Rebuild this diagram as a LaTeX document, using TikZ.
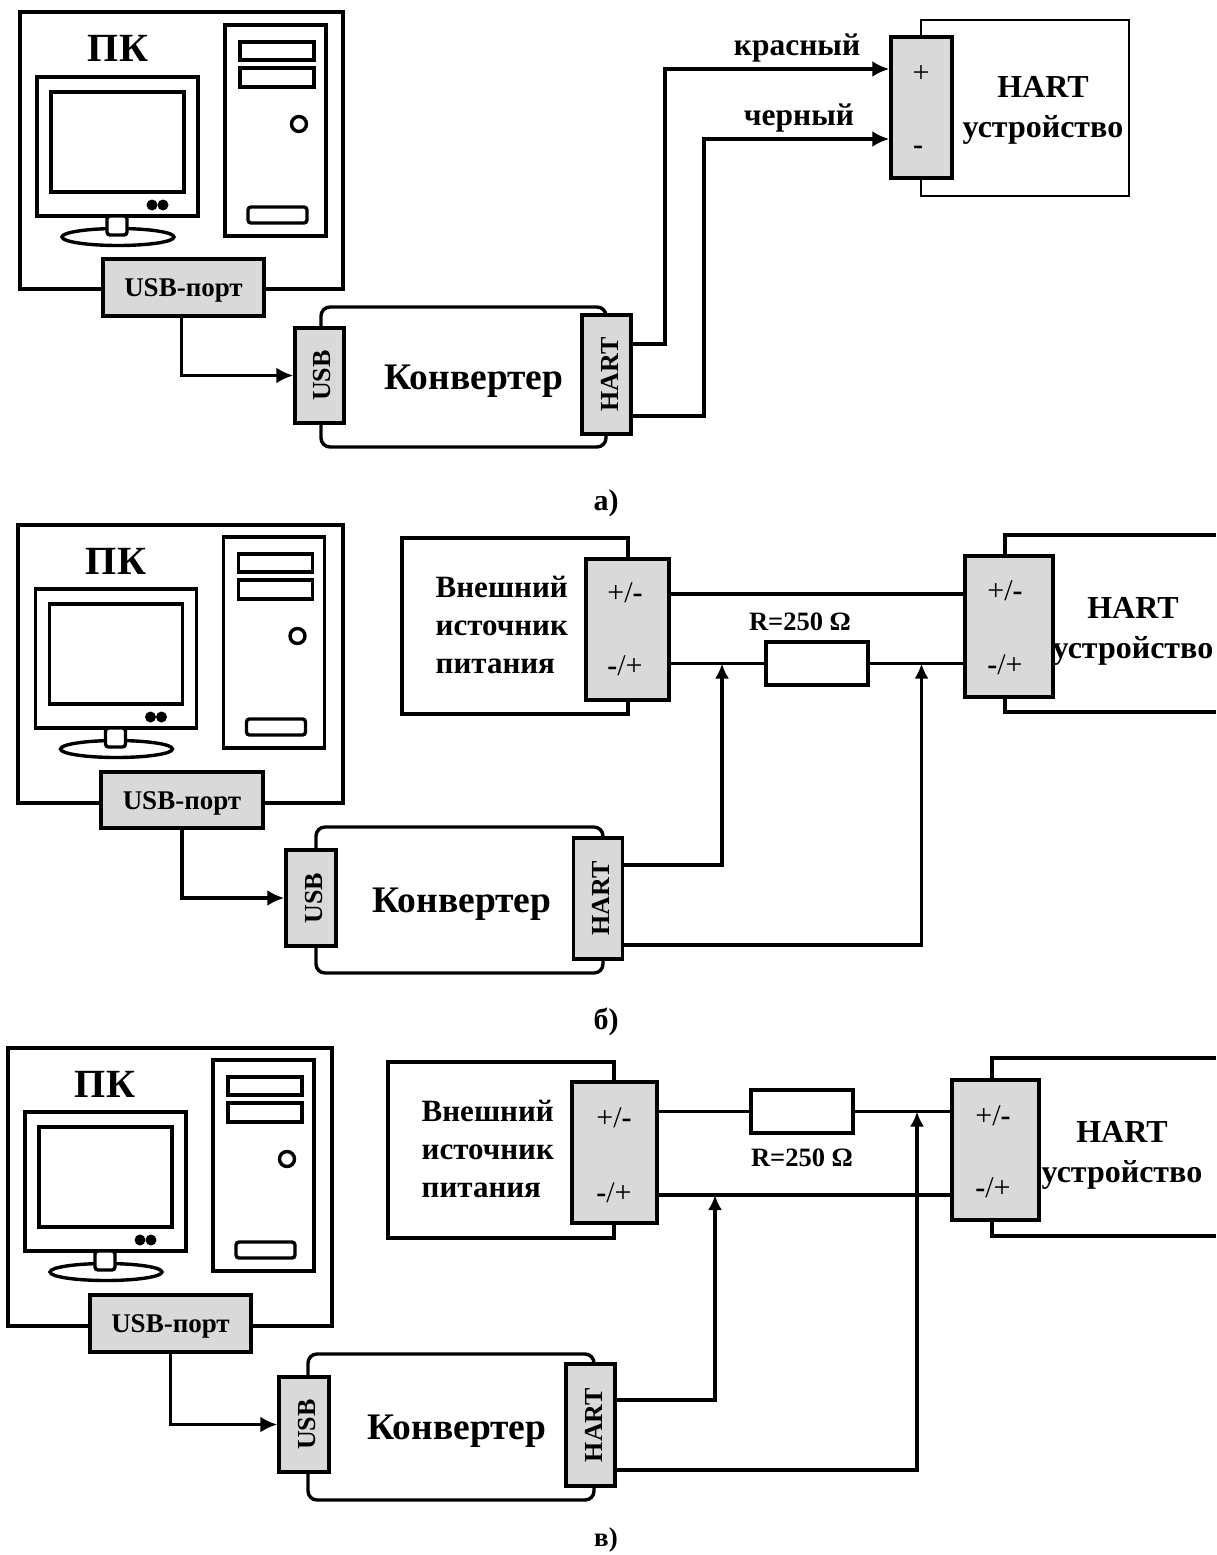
\documentclass[tikz,border=0pt]{standalone}
\usepackage{fontspec}
\setmainfont{Liberation Serif}
\usetikzlibrary{arrows.meta, positioning}
\definecolor{portgray}{HTML}{D9D9D9}
\newcommand{\fsz}[1]{\fontsize{#1}{#1}\selectfont}

\tikzset{
  pics/pcunit/.style={
    code={
      \draw (37,77) rectangle (198,216);
      \draw (51,92) rectangle (184,192);
      \fill (152,205) circle (5.5);
      \fill (163,205) circle (5.5);
      \draw (118,237) ellipse (56 and 8.5);
      \draw[fill=white, rounded corners=3pt] (107,216) rectangle (127,235);
      \draw (225,25) rectangle (326,236);
      \draw (240,42) rectangle (314,60);
      \draw (240,68) rectangle (314,87);
      \draw (299,124) circle (7.5);
      \draw[rounded corners=3pt] (248,207) rectangle (307,223);
    }
  },
}

\begin{document}
\begin{tikzpicture}[
    x = 1pt,
    y = -1pt,
    line width = 3.4pt,
    font = \bfseries,
    sized/.style 2 args={minimum width = #1pt, minimum height = #2pt},
    box/.style={draw, fill = white, inner sep = 0pt},
    port/.style={draw, fill = portgray, inner sep = 0pt},
    conv/.style={box, rounded corners = 9pt},
    wire/.style={line width = 3.6pt},
    feed/.style={wire, -{Latex[length = 17pt, width = 16pt]}},
    tap/.style={wire, -{Latex[length = 15pt, width = 14pt]}},
    title/.style={font = \bfseries\fsz{40}},
    convname/.style={font = \bfseries\fsz{37.5}},
    vertname/.style={rotate = 90, yshift = -3pt, font = \bfseries\fsz{26}},
    usbname/.style={text height = 24pt, text depth = 6pt, font = \bfseries\fsz{27}},
    devname/.style={align = center, font = \bfseries\fontsize{32}{40}\selectfont},
    supname/.style={align = left, anchor = west, inner sep = 0pt, font = \bfseries\fontsize{31}{38}\selectfont},
    pole/.style={font = \fsz{30}},
    resname/.style={font = \bfseries\fsz{26.5}},
    wirename/.style={font = \bfseries\fsz{31.5}},
    caption/.style={font = \bfseries\fsz{30}},
  ]
  \useasboundingbox (0,0) rectangle (1216,1555);

  % panel a
  \node[box, sized={323}{277}] (pcA) at (181.5,150.5) {};
  \pic at (0,0) {pcunit};
  \node[title] (pkA) at (118,48) {ПК};
  \node[port, sized={161}{57}, usbname] (usbportA) at (183.5,287.5) {USB-порт};
  \node[conv, sized={285}{140}] (convA) at (463.5,377) {};
  \node[port, sized={49}{95}] (usbA) at (319.5,375.5) {};
  \node[vertname] (usbtextA) at (usbA) {USB};
  \node[port, sized={49}{119}] (hartA) at (606.5,374.5) {};
  \node[vertname] (harttextA) at (hartA) {HART};
  \node[convname] (convtextA) at (474,381.5) {Конвертер};
  \node[box, line width = 2.6pt, sized={208}{176}] (devA) at (1025,108) {};
  \node[devname] (devtextA) at (1043,110) {HART\\устройство};
  \node[port, sized={61}{141}] (termA) at (921.5,107.5) {};
  \node[pole] (plusA) at (921,74) {+};
  \node[pole, font = \bfseries\fsz{30}] (minusA) at (918,150) {-};
  \draw[feed] ([xshift=-2pt]usbportA.south) |- (usbA.west);
  \draw[feed] (hartA.east |- 0,344) -- ++(32,0) |- (termA.west |- 0,69);
  \draw[feed] (hartA.east |- 0,416) -- ++(71,0) |- (termA.west |- 0,139);
  \node[wirename] (redA) at (797,48) {красный};
  \node[wirename] (blackA) at (799,118) {черный};
  \node[caption] (capA) at (606,503) {а)};

  % panel b
  \node[box, sized={325}{278}] (pcB) at (180.5,664) {};
  \pic at (-1.5,512) {pcunit};
  \node[title] (pkB) at (116,561) {ПК};
  \node[port, sized={162}{56}, usbname] (usbportB) at (182,800) {USB-порт};
  \node[conv, sized={287}{146}] (convB) at (459.5,900) {};
  \node[port, sized={50}{96}] (usbB) at (311,898) {};
  \node[vertname] (usbtextB) at (usbB) {USB};
  \node[port, sized={49}{121}] (hartB) at (598,898.5) {};
  \node[vertname] (harttextB) at (hartB) {HART};
  \node[convname] (convtextB) at (462,904) {Конвертер};
  \node[box, sized={226}{176}] (supB) at (515,626) {};
  \node[supname] (suptextB) at (434,625) {Внешний\\источник\\питания};
  \node[port, sized={83}{141}] (termLB) at (627.5,629.5) {};
  \node[pole] (polLaB) at (625,593) {+/\textbf{-}};
  \node[pole] (polLbB) at (625,666) {\textbf{-}/+};
  \coordinate (devtopB) at (1216,535);
  \coordinate (devbotB) at (1216,712);
  \draw (devtopB) -- (1005,535) -- (1005,712) -- (devbotB);
  \node[devname] (devtextB) at (1133,631) {HART\\устройство};
  \node[port, sized={88}{141}] (termRB) at (1009,626.5) {};
  \node[pole] (polRaB) at (1005,591) {+/\textbf{-}};
  \node[pole] (polRbB) at (1005,665) {\textbf{-}/+};
  \node[box, sized={102}{43}] (resB) at (817,663.5) {};
  \node[resname, above = 5pt of resB, xshift = -17pt] (restextB) {R=250 Ω};
  \draw[wire] (termLB.east |- 0,594) -- (termRB.west |- 0,594);
  \draw[wire] (termLB.east |- resB) -- (resB.west);
  \draw[wire] (resB.east) -- (termRB.west |- resB);
  \draw[feed] (usbportB.south) |- (usbB.west);
  \coordinate (tapaB) at (722,663.5);
  \coordinate (tapbB) at (921.5,663.5);
  \draw[tap] (hartB.east |- 0,865) -| (tapaB);
  \draw[tap] (hartB.east |- 0,945) -| (tapbB);
  \node[caption] (capB) at (606,1022) {б)};

  % panel c
  \node[box, sized={324}{278}] (pcC) at (170,1187) {};
  \pic at (-12,1035) {pcunit};
  \node[title] (pkC) at (105,1084) {ПК};
  \node[port, sized={161}{57}, usbname] (usbportC) at (170.5,1323.5) {USB-порт};
  \node[conv, sized={286}{146}] (convC) at (451,1427) {};
  \node[port, sized={50}{95}] (usbC) at (304,1424.5) {};
  \node[vertname] (usbtextC) at (usbC) {USB};
  \node[port, sized={49}{122}] (hartC) at (590.5,1425) {};
  \node[vertname] (harttextC) at (hartC) {HART};
  \node[convname] (convtextC) at (457,1431.5) {Конвертер};
  \node[box, sized={226}{176}] (supC) at (501,1150) {};
  \node[supname] (suptextC) at (420,1149) {Внешний\\источник\\питания};
  \node[port, sized={85}{141}] (termLC) at (614.5,1152.5) {};
  \node[pole] (polLaC) at (614,1118) {+/\textbf{-}};
  \node[pole] (polLbC) at (614,1193) {\textbf{-}/+};
  \coordinate (devtopC) at (1216,1058);
  \coordinate (devbotC) at (1216,1236);
  \draw (devtopC) -- (992,1058) -- (992,1236) -- (devbotC);
  \node[devname] (devtextC) at (1122,1155) {HART\\устройство};
  \node[port, sized={87}{140}] (termRC) at (995.5,1150) {};
  \node[pole] (polRaC) at (993,1116) {+/\textbf{-}};
  \node[pole] (polRbC) at (993,1188) {\textbf{-}/+};
  \node[box, sized={102}{43}] (resC) at (802,1111.5) {};
  \node[resname, below = 9pt of resC] (restextC) {R=250 Ω};
  \draw[wire] (termLC.east |- resC) -- (resC.west);
  \draw[wire] (resC.east) -- (termRC.west |- resC);
  \draw[wire] (termLC.east |- 0,1195) -- (termRC.west |- 0,1195);
  \draw[feed] (usbportC.south) |- (usbC.west);
  \coordinate (tapaC) at (715,1195);
  \coordinate (tapbC) at (917,1111.5);
  \draw[tap] (hartC.east |- 0,1400) -| (tapaC);
  \draw[tap] (hartC.east |- 0,1470) -| (tapbC);
  \node[caption, font = \bfseries\fsz{27}] (capC) at (606,1540) {в)};
\end{tikzpicture}
\end{document}
